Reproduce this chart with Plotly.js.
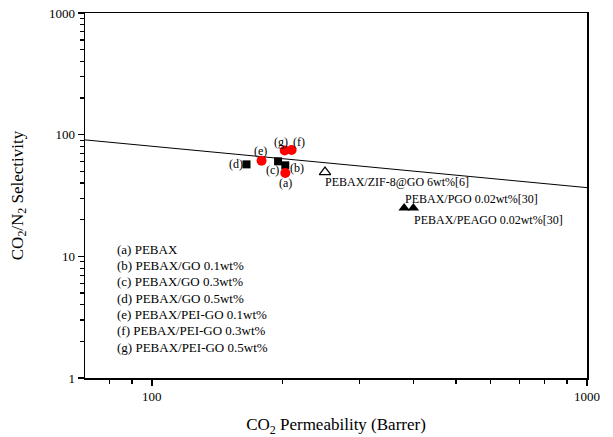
<!DOCTYPE html>
<html>
<head>
<meta charset="utf-8">
<script src="https://cdn.plot.ly/plotly-3.0.1.min.js"></script>
<style>html,body{margin:0;padding:0;background:#fff;}#chart{width:613px;height:437px;}</style>
</head>
<body>
<div id="chart"></div>
<script>
// Data
const boundX = [70.2, 1000];
const boundY = [90.6, 36.7];

const pebaxP = [202.6];
const pebaxS = [48.4];
const pebaxLbl = ["(a)"];

const goP = [202.6, 195, 165];
const goS = [56, 60.4, 57];
const goLbl = ["(b)", "(c)", "(d)"];

const peiP = [178.7, 209.5, 202];
const peiS = [61.1, 74.8, 74];
const peiLbl = ["(e)", "(f)", "(g)"];

const zifP = [250];
const zifS = [49.3];
const zifLbl = ["PEBAX/ZIF-8@GO 6wt%[6]"];

const refP = [380, 399];
const refS = [25, 25];
const refLbl = ["PEBAX/PGO 0.02wt%[30]", "PEBAX/PEAGO 0.02wt%[30]"];

const legendLines = [
  "(a) PEBAX",
  "(b) PEBAX/GO 0.1wt%",
  "(c) PEBAX/GO 0.3wt%",
  "(d) PEBAX/GO 0.5wt%",
  "(e) PEBAX/PEI-GO 0.1wt%",
  "(f) PEBAX/PEI-GO 0.3wt%",
  "(g) PEBAX/PEI-GO 0.5wt%"
];

const FONT = "'Liberation Serif', 'Times New Roman', serif";

const traces = [
  {x: boundX, y: boundY, mode: "lines", line: {color: "black", width: 1}, hoverinfo: "skip"},
  {x: goP, y: goS, mode: "markers", marker: {symbol: "square", size: 8, color: "black"}},
  {x: pebaxP, y: pebaxS, mode: "markers", marker: {symbol: "circle", size: 10, color: "#ff0000"}},
  {x: peiP, y: peiS, mode: "markers", marker: {symbol: "circle", size: 10, color: "#ff0000"}},
  {x: zifP, y: zifS, mode: "markers", marker: {symbol: "triangle-up-open", size: 10, color: "black", line: {width: 1.2, color: "black"}}},
  {x: refP, y: refS, mode: "markers", marker: {symbol: "triangle-up", size: 10, color: "black"}}
];

const ann = [];
function lbl(x, y, text, xs, ys, anchor) {
  ann.push({x: Math.log10(x), y: Math.log10(y), xref: "x", yref: "y", text: text, showarrow: false,
    xshift: xs, yshift: ys, xanchor: anchor || "center", yanchor: "middle",
    font: {family: FONT, size: 12, color: "black"}});
}
// point labels (offsets are styling)
const ptOffsets = {"(a)": [0, -10], "(b)": [12, -3], "(c)": [-6, -9], "(d)": [-11, 0],
                   "(e)": [-1, 10], "(f)": [7, 8], "(g)": [-4, 9]};
[[pebaxP, pebaxS, pebaxLbl], [goP, goS, goLbl], [peiP, peiS, peiLbl]].forEach(([P, S, L]) => {
  P.forEach((p, i) => { const o = ptOffsets[L[i]]; lbl(p, S[i], L[i], o[0], o[1]); });
});
lbl(zifP[0], zifS[0], zifLbl[0], -2, -10, "left");
lbl(refP[0], refS[0], refLbl[0], -1, 9, "left");
lbl(refP[1], refS[1], refLbl[1], -1, -12, "left");

legendLines.forEach((t, i) => {
  ann.push({xref: "paper", yref: "paper", x: 0.06, y: 0.3534 - i * 0.0449, text: t, showarrow: false,
    xanchor: "left", yanchor: "middle", font: {family: FONT, size: 13, color: "black"}});
});

const axisCommon = {
  type: "log", dtick: 1, showgrid: false, zeroline: false,
  showline: true, linecolor: "black", linewidth: 1.5, mirror: true,
  ticks: "outside", ticklen: 6, tickwidth: 1.5, tickcolor: "black",
  tickfont: {family: FONT, size: 13, color: "black"},
  minor: {dtick: "D1", ticks: "outside", ticklen: 4, tickwidth: 1.2, tickcolor: "black", showgrid: false},
  automargin: false
};

const layout = {
  width: 613, height: 437,
  margin: {l: 85, r: 26, t: 13, b: 59},
  showlegend: false,
  paper_bgcolor: "white", plot_bgcolor: "white",
  font: {family: FONT, color: "black"},
  xaxis: Object.assign({}, axisCommon, {
    range: [Math.log10(70.2), 3],
    title: {text: "CO<sub>2</sub> Permeability (Barrer)", font: {family: FONT, size: 17, color: "black"}, standoff: 15}
  }),
  yaxis: Object.assign({}, axisCommon, {
    range: [0, 3],
    title: {text: "CO<sub>2</sub>/N<sub>2</sub> Selectivity", font: {family: FONT, size: 17, color: "black"}, standoff: 21}
  }),
  annotations: ann
};

Plotly.newPlot("chart", traces, layout, {staticPlot: true, displayModeBar: false});
</script>
</body>
</html>
